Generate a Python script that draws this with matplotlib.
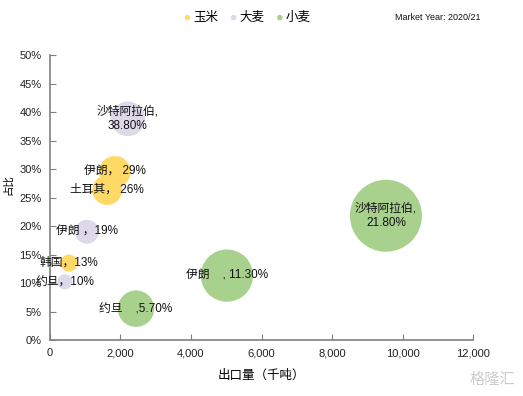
import matplotlib.pyplot as plt
import matplotlib.ticker as ticker

plt.rcParams['font.family'] = ['Liberation Sans', 'Noto Sans CJK SC', 'DejaVu Sans']

# export volume (kt), share, label per grain
corn_x = [1840, 1620, 540]
corn_y = [0.295, 0.263, 0.135]
corn_labels = ['伊朗， 29%', '土耳其， 26%', '韩国，13%']

barley_x = [2210, 1050, 420]
barley_y = [0.388, 0.19, 0.102]
barley_labels = ['沙特阿拉伯,\n38.80%', '伊朗 ，19%', '约旦，10%']

wheat_x = [9530, 5020, 2440]
wheat_y = [0.218, 0.113, 0.055]
wheat_labels = ['沙特阿拉伯,\n21.80%', '伊朗    , 11.30%', '约旦    ,5.70%']

series = [
    ('玉米', corn_x, corn_y, corn_labels, '#FFD966'),
    ('大麦', barley_x, barley_y, barley_labels, '#DDD9E8'),
    ('小麦', wheat_x, wheat_y, wheat_labels, '#A9D18E'),
]

fig = plt.figure(figsize=(5.23, 3.96), dpi=100)
ax = fig.add_axes([0.0956, 0.1414, 0.8088, 0.7196])

size_scale = 0.282  # bubble area proportional to export volume
for name, xs, ys, labels, color in series:
    ax.scatter(xs, ys, s=[v * size_scale for v in xs], color=color,
               edgecolors='none', label=name, zorder=2)
    for x, y, lab in zip(xs, ys, labels):
        ax.text(x, y, lab, ha='center', va='center', fontsize=8.5,
                color='#111111', zorder=3)

ax.set_xlim(0, 12000)
ax.set_ylim(0, 0.5)
ax.xaxis.set_major_locator(ticker.MultipleLocator(2000))
ax.yaxis.set_major_locator(ticker.MultipleLocator(0.05))
ax.xaxis.set_major_formatter(ticker.FuncFormatter(lambda v, p: f'{v:,.0f}'))
ax.yaxis.set_major_formatter(ticker.FuncFormatter(lambda v, p: f'{v*100:.0f}%'))
ax.tick_params(direction='in', length=4, width=0.8, color='#808080',
               labelsize=8, labelcolor='#222222', pad=6)
for s in ['top', 'right']:
    ax.spines[s].set_visible(False)
for s in ['left', 'bottom']:
    ax.spines[s].set_color('#808080')
    ax.spines[s].set_linewidth(1.2)

ax.set_xlabel('出口量（千吨）', fontsize=9, labelpad=8)
ax.set_ylabel('占比', fontsize=7.5)
ax.yaxis.set_label_coords(-0.088, 0.544)

leg = fig.legend(loc='center', bbox_to_anchor=(0.473, 0.955), ncol=3,
                 frameon=False, fontsize=9, handletextpad=0.2,
                 handlelength=0.6, columnspacing=0.9, borderpad=0)
for h in leg.legend_handles:
    h.set_sizes([16])

fig.text(0.755, 0.955, 'Market Year: 2020/21', fontsize=6.5,
         ha='left', va='center', color='#111111')
fig.text(0.985, 0.04, '格隆汇', fontsize=11, ha='right', va='center',
         color='#cccccc')

fig.savefig('out.png', dpi=100)
